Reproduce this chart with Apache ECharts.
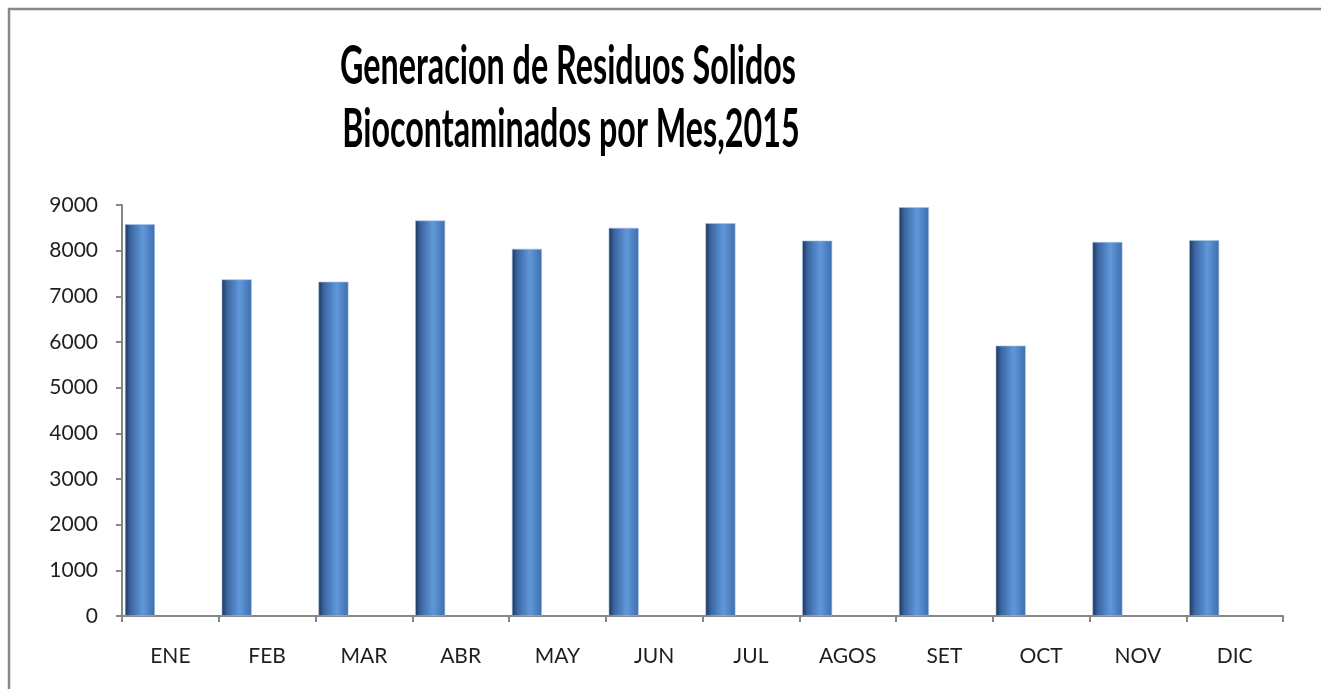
<!DOCTYPE html>
<html>
<head>
<meta charset="utf-8">
<style>html,body{margin:0;padding:0;background:#fff}#c{width:1321px;height:689px}</style>
<script src="https://cdn.jsdelivr.net/npm/echarts@6/dist/echarts.min.js"></script>
</head>
<body>
<div id="c"></div>
<script>
const titleLines = ['Generacion de Residuos Solidos', 'Biocontaminados por Mes,2015'];
const categories = ['ENE','FEB','MAR','ABR','MAY','JUN','JUL','AGOS','SET','OCT','NOV','DIC'];
const values = [8580, 7370, 7320, 8660, 8040, 8500, 8600, 8220, 8950, 5920, 8190, 8230];
const emptySeries = categories.map(() => null);
const yTicks = { min: 0, max: 9000, interval: 1000 };

const TITLE_FONT = 'bold 54px Lato';
function measure(t){const c=document.createElement('canvas').getContext('2d');c.font=TITLE_FONT;return c.measureText(t).width;}
const targetW = 456;
const sx = targetW / measure(titleLines[0]);

const chart = echarts.init(document.getElementById('c'), null, {renderer:'canvas'});
const barColor = new echarts.graphic.LinearGradient(0,0,1,0,[
  {offset:0, color:'#1e3557'},
  {offset:0.18, color:'#3a65a1'},
  {offset:0.6, color:'#6198da'},
  {offset:1, color:'#3e6dae'}
]);
chart.setOption({
  backgroundColor:'#fff',
  animation:false,
  graphic:[
    {type:'rect', shape:{x:9,y:9,width:1330,height:720}, style:{fill:null, stroke:'#888888', lineWidth:2.5}, silent:true, z:-1},
    {type:'text', x:568, y:67, scaleX:sx, scaleY:1, style:{text:titleLines[0], font:TITLE_FONT, fill:'#000', textAlign:'center', textVerticalAlign:'middle'}},
    {type:'text', x:571, y:130, scaleX:sx, scaleY:1, style:{text:titleLines[1], font:TITLE_FONT, fill:'#000', textAlign:'center', textVerticalAlign:'middle'}}
  ],
  grid:{left:122, right:38, top:205, bottom:73, containLabel:false},
  xAxis:{
    type:'category', data:categories, boundaryGap:true,
    axisLine:{lineStyle:{color:'#868686', width:2}},
    axisTick:{show:true, length:6, inside:false, lineStyle:{color:'#868686', width:2}},
    axisLabel:{color:'#1f1f1f', fontFamily:'Lato', fontSize:21, margin:30}
  },
  yAxis:{
    type:'value', min:yTicks.min, max:yTicks.max, interval:yTicks.interval,
    splitLine:{show:false},
    axisLine:{show:true, lineStyle:{color:'#868686', width:2}},
    axisTick:{show:true, length:6, lineStyle:{color:'#868686', width:2}},
    axisLabel:{color:'#1f1f1f', fontFamily:'Lato', fontSize:21, margin:24, formatter:(v)=>String(v)}
  },
  series:[
    {type:'bar', data:values, barWidth:30, barGap:'103%', itemStyle:{color:barColor, borderColor:'#a9c2e6', borderWidth:0.6}},
    {type:'bar', data:emptySeries, barWidth:30}
  ]
});
</script>
</body>
</html>
